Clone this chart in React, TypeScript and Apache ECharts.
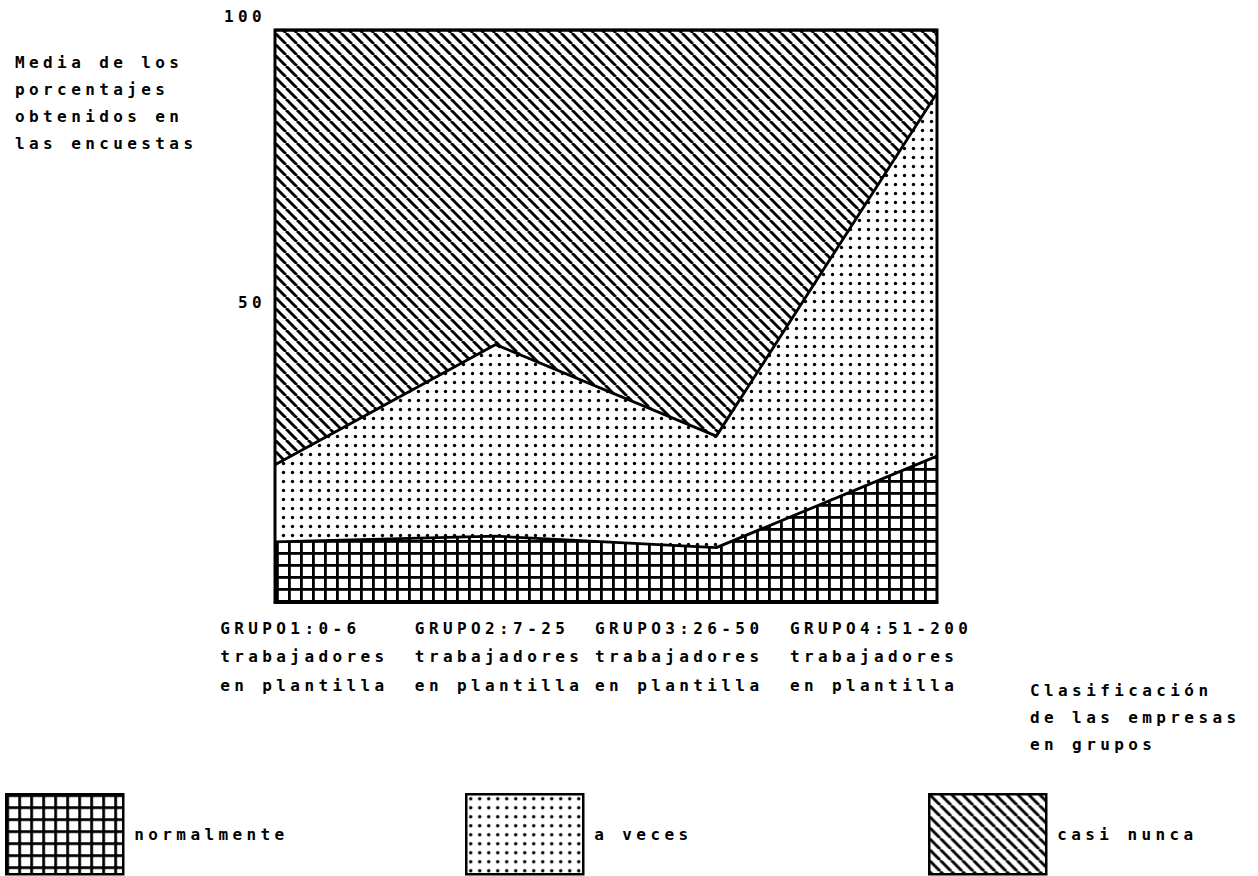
import React, { useEffect, useRef } from 'react';
import * as echarts from 'echarts';

// ---- data ----
const categories = ['GRUPO1:0-6', 'GRUPO2:7-25', 'GRUPO3:26-50', 'GRUPO4:51-200'];
const categorySubLines = ['trabajadores', 'en plantilla'];
const seriesNames = ['normalmente', 'a veces', 'casi nunca'];
const normalmente = [10.5, 11.5, 9.5, 25.5];
const aVeces = [13.5, 33.5, 19.5, 63.5];
const casiNunca = [76, 55, 71, 11];
const yTickLabels = [50, 100];
const yAxisTitle = ['Media de los', 'porcentajes', 'obtenidos en', 'las encuestas'];
const xAxisTitle = ['Clasificación', 'de las empresas', 'en grupos'];

const FONT = '"DejaVu Sans Mono", "Liberation Mono", monospace';
const WEIGHT = 'bold';

function makePattern(size: number, draw: (ctx: CanvasRenderingContext2D, s: number) => void) {
  const c = document.createElement('canvas');
  c.width = size;
  c.height = size;
  const ctx = c.getContext('2d')!;
  draw(ctx, size);
  return { image: c.toDataURL(), imageWidth: size, imageHeight: size, repeat: 'repeat' } as any;
}

export default function App() {
  const ref = useRef<HTMLDivElement>(null);

  useEffect(() => {
    if (!ref.current) return;
    const chart = echarts.init(ref.current, null, { renderer: 'svg' });

    const gridPat = makePattern(12, (ctx, s) => {
      ctx.fillStyle = '#000';
      ctx.fillRect(0, 0, s, 2.8);
      ctx.fillRect(0, 0, 2.8, s);
    });
    const dotPat = makePattern(9, (ctx, s) => {
      ctx.fillStyle = '#000';
      ctx.beginPath();
      ctx.arc(s / 2, s / 2, 1.7, 0, Math.PI * 2);
      ctx.fill();
    });
    const hatchPat = makePattern(11, (ctx, s) => {
      ctx.strokeStyle = '#000';
      ctx.lineWidth = 2.9;
      for (const o of [-s, 0, s]) {
        ctx.beginPath();
        ctx.moveTo(o, 0);
        ctx.lineTo(o + s, s);
        ctx.stroke();
      }
    });
    const patterns = [gridPat, dotPat, hatchPat];
    const values = [normalmente, aVeces, casiNunca];

    const labelPads = [
      [0, 0, 0, 6],
      [0, 46, 0, 0],
      [0, 127, 0, 0],
      [0, 169, 0, 0],
    ];
    const rich: any = {};
    labelPads.forEach((p, i) => {
      rich['g' + i] = {
        padding: p,
        lineHeight: 28.5,
        align: 'left',
        fontFamily: FONT,
        fontWeight: WEIGHT,
        fontSize: 16,
        color: '#000',
      };
    });

    const legendLefts = [0, 460, 923];
    const textBase = { fontFamily: FONT, fontSize: 16, fontWeight: WEIGHT, color: '#000' };

    chart.setOption({
      animation: false,
      backgroundColor: '#fff',
      title: [
        {
          text: yAxisTitle.join('\n'),
          left: 10,
          top: 44,
          textStyle: { ...textBase, lineHeight: 27 },
        },
        {
          text: xAxisTitle.join('\n'),
          left: 1025,
          top: 672,
          textStyle: { ...textBase, lineHeight: 27 },
        },
      ],
      legend: seriesNames.map((n, i) => ({
        data: [
          {
            name: n,
            icon: 'rect',
            itemStyle: { color: patterns[i], borderColor: '#000', borderWidth: 2.5 },
          },
        ],
        left: legendLefts[i],
        top: 788,
        itemWidth: 117,
        itemHeight: 80,
        selectedMode: false,
        textStyle: { ...textBase, padding: [0, 0, 0, 6] },
      })),
      grid: {
        left: 275,
        top: 30,
        width: 662,
        height: 572,
        show: true,
        borderColor: '#000',
        borderWidth: 3,
        backgroundColor: 'transparent',
      },
      xAxis: {
        type: 'category',
        boundaryGap: false,
        data: categories,
        axisLine: { show: true, lineStyle: { color: '#000', width: 3 } },
        axisTick: { show: false },
        splitLine: { show: false },
        axisLabel: {
          interval: 0,
          margin: 12,
          align: 'center',
          verticalAlign: 'top',
          formatter: (v: string, i: number) =>
            [v, ...categorySubLines].map((s) => `{g${i}|${s}}`).join('\n'),
          rich,
        },
      },
      yAxis: {
        type: 'value',
        min: 0,
        max: 100,
        interval: 50,
        axisLine: { show: false },
        axisTick: { show: false },
        splitLine: { show: false },
        axisLabel: {
          ...textBase,
          margin: 9,
          verticalAlign: 'bottom',
          padding: [0, 0, 6, 0],
          formatter: (v: number) => (yTickLabels.includes(v) ? String(v) : ''),
        },
      },
      series: seriesNames.map((n, i) => ({
        name: n,
        type: 'line',
        stack: 'total',
        data: values[i],
        symbol: 'none',
        itemStyle: { color: '#000' },
        lineStyle: { color: '#000', width: 2.8 },
        areaStyle: { color: patterns[i], opacity: 1 },
      })),
    });

    return () => chart.dispose();
  }, []);

  return (
    <>
      <style>{`#chart svg text { letter-spacing: 4.4px; }`}</style>
      <div
        id="chart"
        ref={ref}
        style={{ position: 'fixed', left: 0, top: 0, width: 1258, height: 876 }}
      />
    </>
  );
}
